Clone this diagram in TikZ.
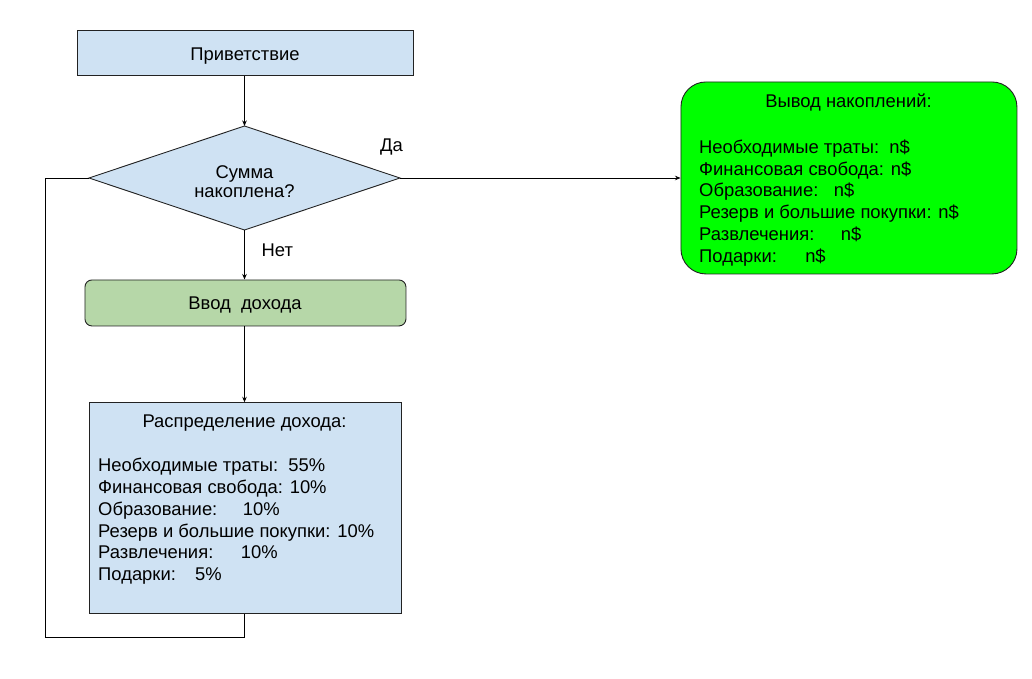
\documentclass[tikz,border=0pt]{standalone}
\usepackage{fontspec}
\setmainfont{Liberation Sans}
\usetikzlibrary{arrows.meta,shapes.geometric}
\definecolor{boxblue}{HTML}{CFE2F3}
\definecolor{boxgreen}{HTML}{B6D7A8}
\definecolor{brightgreen}{HTML}{00FF00}
\definecolor{edge}{HTML}{222222}
\begin{document}
\begin{tikzpicture}[x=1pt,y=-1pt,
  box/.style={draw=edge,line width=0.9pt,inner sep=0pt},
  ttl/.style={inner sep=0pt,anchor=base,font=\fontsize{18.4}{21}\selectfont},
  line/.style={inner sep=0pt,anchor=base west,font=\fontsize{18.4}{21}\selectfont},
  conn/.style={draw=black,line width=0.8pt},
  arr/.style={conn,-{Stealth[length=5.5pt,width=4.5pt]}}]
\useasboundingbox (0,0) rectangle (1032,678);

% start box
\node[box,fill=boxblue,rectangle,minimum width=336pt,minimum height=45pt,anchor=north west] (start) at (77,30) {};
\node[ttl] (starttxt) at (245,60) {Приветствие};

% decision diamond, drawn as a path with named corners
\coordinate (dtop) at (244.5,126);
\coordinate (dright) at (400,178);
\coordinate (dbot) at (244.5,230);
\coordinate (dleft) at (89,178);
\draw[box,fill=boxblue] (dtop) -- (dright) -- (dbot) -- (dleft) -- cycle;
\node[ttl] (q1) at (244.5,178.3) {Сумма};
\node[ttl] (q2) at (244.5,197) {накоплена?};
\node[ttl,anchor=base west] (yes) at (380,151.7) {Да};
\node[ttl,anchor=base west] (no) at (261.5,256) {Нет};

% income input
\node[box,fill=boxgreen,rectangle,rounded corners=7pt,minimum width=321pt,minimum height=46pt,anchor=north west] (input) at (84.5,279.5) {};
\node[ttl] (inputtxt) at (245,309.3) {Ввод\ \ дохода};

% distribution box
\node[box,fill=boxblue,rectangle,minimum width=312pt,minimum height=211pt,anchor=north west] (dist) at (88.5,402.3) {};
\node[ttl] (disttitle) at (244.5,427.7) {Распределение дохода:};
\foreach \t [count=\i] in {{Необходимые траты:\ \ 55\%},{Финансовая свобода: 10\%},{Образование:\ \ \ \ \hspace{5pt}10\%},{Резерв и большие покупки: 10\%},{Развлечения:\ \ \ \ \ \hspace{2pt}10\%},{Подарки:\ \ \ \hspace{4pt}5\%}}
  \node[line,name=dl\i] at (98,471.7+21.8*\i-21.8) {\t};

% savings output
\node[box,fill=brightgreen,rectangle,rounded corners=25pt,minimum width=336pt,minimum height=192pt,anchor=north west] (out) at (680.5,81.5) {};
\node[ttl] (outtitle) at (848.5,107.7) {Вывод накоплений:};
\foreach \t [count=\i] in {{Необходимые траты:\ \ n\$},{Финансовая свобода: n\$},{Образование:\ \ \ \ \hspace{-5pt}n\$},{Резерв и большие покупки: n\$},{Развлечения:\ \ \ \ \ \hspace{1pt}n\$},{Подарки:\ \ \ \hspace{13pt}n\$}}
  \node[line,name=ol\i] at (699,153.3+21.8*\i-21.8) {\t};

% connectors
\coordinate (loopbot) at (244.5,637.5);
\coordinate (loopleft) at (45.5,637.5);
\coordinate (looptop) at (45.5,178);
\draw[arr] (start.south -| dtop) -- (dtop);
\draw[arr] (dright) -- (dright -| out.west);
\draw[arr] (dbot) -- (dbot |- input.north);
\draw[arr] (input.south -| dtop) -- (dist.north -| dtop);
\draw[conn] (dist.south -| dtop) -- (loopbot) -- (loopleft) -- (looptop) -- (dleft);
\end{tikzpicture}
\end{document}
